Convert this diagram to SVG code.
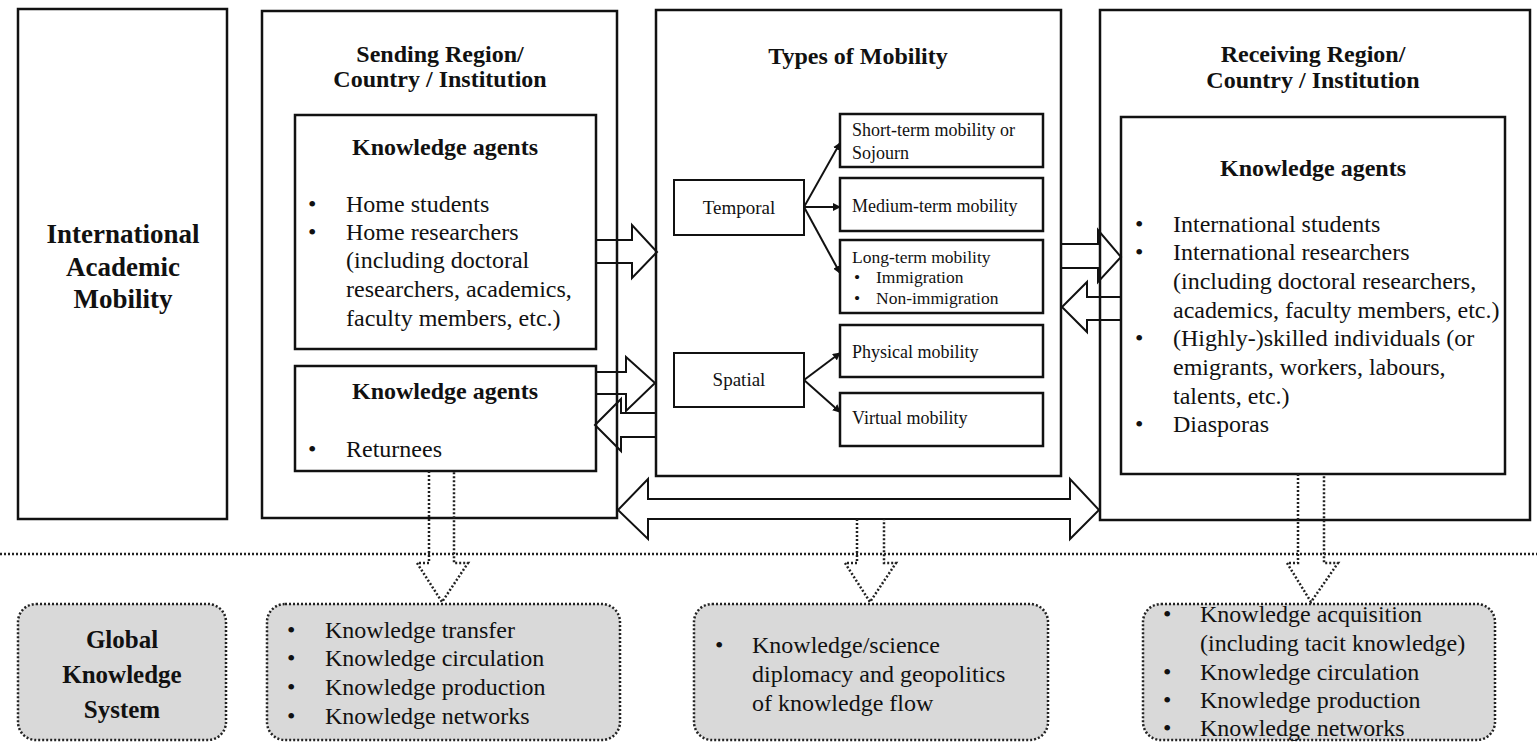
<svg xmlns="http://www.w3.org/2000/svg" width="1537" height="743" viewBox="0 0 1537 743">
<style>
.box{fill:#fff;stroke:#111;stroke-width:2.5}
.sbox{fill:#fff;stroke:#111;stroke-width:2}
.gbox{fill:#d9d9d9;stroke:#222;stroke-width:2.5;stroke-dasharray:2 2}
.blk{fill:none;stroke:#111;stroke-width:2}
.dot{fill:none;stroke:#222;stroke-width:2.5;stroke-dasharray:2 2}
.ln{stroke:#111;stroke-width:2;fill:none}
text{font-family:"Liberation Serif","Times New Roman",serif;fill:#111}
.t{font-weight:bold;font-size:24px;text-anchor:middle}
.big{font-weight:bold;font-size:27px;text-anchor:middle}
.g{font-weight:bold;font-size:25px;text-anchor:middle}
.b{font-size:24px}
.s{font-size:18px}
.sl{font-size:17.5px}
.m{font-size:19px;text-anchor:middle}
</style>
<defs>
<marker id="ah" markerWidth="8" markerHeight="8" refX="7" refY="4" orient="auto" markerUnits="userSpaceOnUse"><path d="M0,0 L8,4 L0,8 z" fill="#111"/></marker>
</defs>

<g id="iam">
<rect class="box" x="18" y="9" width="209" height="510" stroke-width="3"/>
<text class="big" x="123" y="243">International</text>
<text class="big" x="123" y="276">Academic</text>
<text class="big" x="123" y="308">Mobility</text>
</g>

<g id="sending">
<rect class="box" x="262" y="11" width="355" height="507"/>
<text class="t" x="440" y="62">Sending Region/</text>
<text class="t" x="440" y="87">Country / Institution</text>
</g>
<g id="sending-agents">
<rect class="box" x="295" y="115" width="301" height="234"/>
<text class="t" x="445" y="155">Knowledge agents</text>
<text class="b" x="308" y="212">•</text><text class="b" x="346" y="212">Home students</text>
<text class="b" x="308" y="240">•</text><text class="b" x="346" y="240">Home researchers</text>
<text class="b" x="346" y="268">(including doctoral</text>
<text class="b" x="346" y="297">researchers, academics,</text>
<text class="b" x="346" y="326">faculty members, etc.)</text>
</g>
<g id="sending-returnees">
<rect class="box" x="295" y="366" width="301" height="105"/>
<text class="t" x="445" y="399">Knowledge agents</text>
<text class="b" x="308" y="457">•</text><text class="b" x="346" y="457">Returnees</text>
</g>

<g id="types">
<rect class="box" x="656" y="10" width="405" height="466"/>
<text class="t" x="858" y="64">Types of Mobility</text>
</g>
<g id="temporal"><rect class="sbox" x="674" y="180" width="130" height="55"/><text class="m" x="739" y="214">Temporal</text></g>
<g id="spatial"><rect class="sbox" x="674" y="353" width="130" height="54"/><text class="m" x="739" y="386">Spatial</text></g>
<g id="short"><rect class="box" x="840" y="114" width="203" height="53"/><text class="s" x="852" y="136">Short-term mobility or</text><text class="s" x="852" y="159">Sojourn</text></g>
<g id="medium"><rect class="box" x="840" y="178" width="203" height="53"/><text class="s" x="852" y="212">Medium-term mobility</text></g>
<g id="long"><rect class="box" x="840" y="240" width="203" height="73"/><text class="sl" x="852" y="263">Long-term mobility</text>
<text class="sl" x="854" y="283">•</text><text class="sl" x="876" y="283">Immigration</text>
<text class="sl" x="854" y="304">•</text><text class="sl" x="876" y="304">Non-immigration</text></g>
<g id="physical"><rect class="box" x="840" y="325" width="203" height="52"/><text class="s" x="852" y="358">Physical mobility</text></g>
<g id="virtual"><rect class="box" x="840" y="393" width="203" height="53"/><text class="s" x="852" y="424">Virtual mobility</text></g>

<g id="receiving">
<rect class="box" x="1100" y="10" width="430" height="510"/>
<text class="t" x="1313" y="62">Receiving Region/</text>
<text class="t" x="1313" y="88">Country / Institution</text>
</g>
<g id="receiving-agents">
<rect class="box" x="1121" y="117" width="384" height="357"/>
<text class="t" x="1313" y="176">Knowledge agents</text>
<text class="b" x="1135" y="232">•</text><text class="b" x="1173" y="232">International students</text>
<text class="b" x="1135" y="260">•</text><text class="b" x="1173" y="260">International researchers</text>
<text class="b" x="1173" y="289">(including doctoral researchers,</text>
<text class="b" x="1173" y="318">academics, faculty members, etc.)</text>
<text class="b" x="1135" y="346">•</text><text class="b" x="1173" y="346">(Highly-)skilled individuals (or</text>
<text class="b" x="1173" y="375">emigrants, workers, labours,</text>
<text class="b" x="1173" y="404">talents, etc.)</text>
<text class="b" x="1135" y="432">•</text><text class="b" x="1173" y="432">Diasporas</text>
</g>

<g id="gks">
<rect class="gbox" x="18" y="604" width="208" height="136" rx="18"/>
<text class="g" x="122" y="648">Global</text>
<text class="g" x="122" y="683">Knowledge</text>
<text class="g" x="122" y="718">System</text>
</g>
<g id="out-sending">
<rect class="gbox" x="267" y="604" width="353" height="136" rx="18"/>
<text class="b" x="287" y="638">•</text><text class="b" x="325" y="638">Knowledge transfer</text>
<text class="b" x="287" y="666">•</text><text class="b" x="325" y="666">Knowledge circulation</text>
<text class="b" x="287" y="695">•</text><text class="b" x="325" y="695">Knowledge production</text>
<text class="b" x="287" y="724">•</text><text class="b" x="325" y="724">Knowledge networks</text>
</g>
<g id="out-mid">
<rect class="gbox" x="694" y="604" width="354" height="136" rx="18"/>
<text class="b" x="715" y="653">•</text><text class="b" x="752" y="653">Knowledge/science</text>
<text class="b" x="752" y="682">diplomacy and geopolitics</text>
<text class="b" x="752" y="711">of knowledge flow</text>
</g>
<g id="out-receiving">
<rect class="gbox" x="1143" y="604" width="352" height="136" rx="18"/>
<text class="b" x="1163" y="622">•</text><text class="b" x="1200" y="622">Knowledge acquisition</text>
<text class="b" x="1200" y="651">(including tacit knowledge)</text>
<text class="b" x="1163" y="680">•</text><text class="b" x="1200" y="680">Knowledge circulation</text>
<text class="b" x="1163" y="708">•</text><text class="b" x="1200" y="708">Knowledge production</text>
<text class="b" x="1163" y="736">•</text><text class="b" x="1200" y="736">Knowledge networks</text>
</g>

<g id="connectors">
<line class="dot" x1="0" y1="554" x2="1537" y2="554"/>
<line class="ln" x1="804" y1="207" x2="840" y2="143" marker-end="url(#ah)"/>
<line class="ln" x1="804" y1="207" x2="840" y2="207" marker-end="url(#ah)"/>
<line class="ln" x1="804" y1="207" x2="840" y2="273" marker-end="url(#ah)"/>
<line class="ln" x1="804" y1="380" x2="840" y2="353" marker-end="url(#ah)"/>
<line class="ln" x1="804" y1="380" x2="840" y2="412" marker-end="url(#ah)"/>
<path class="blk" d="M596,240 H632 V225 L657,252 L632,278 V263 H596"/>
<path class="blk" d="M596,372 H626 V357 L655,383 L626,411 V394 H596"/>
<path class="blk" d="M656,413 H621 V399 L595,425 L621,451 V437 H656"/>
<path class="blk" d="M1061,244 H1098 V230 L1121,257 L1098,282 V268 H1061"/>
<path class="blk" d="M1121,297 H1087 V282 L1062,307 L1087,332 V320 H1121"/>
<path class="blk" d="M648,499 H1070 V479 L1099,510 L1070,539 V519 H648 V539 L618,510 L648,479 Z"/>
<path class="dot" d="M429,471 V563 H417 L442,602 L468,563 H454 V471"/>
<path class="dot" d="M857,519 V563 H845 L870,602 L896,563 H884 V519"/>
<path class="dot" d="M1298,474 V563 H1287 L1311,602 L1338,563 H1324 V474"/>
</g>
</svg>
